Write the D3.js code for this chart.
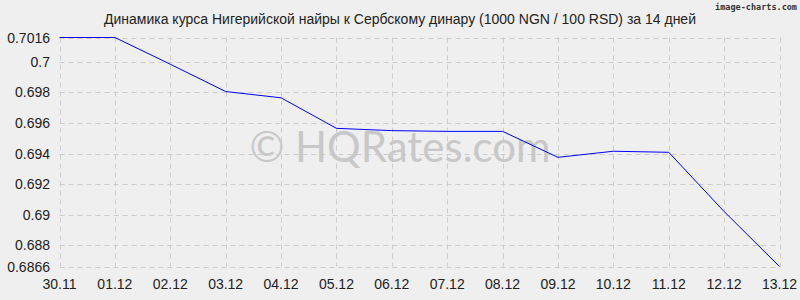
<!DOCTYPE html>
<html>
<head>
<meta charset="utf-8">
<script src="https://cdn.jsdelivr.net/npm/d3@7"></script>
<style>
  body { margin: 0; background: #efefef; }
  svg { display: block; }
</style>
</head>
<body>
<svg width="800" height="300"></svg>
<script>
const dates = ['30.11','01.12','02.12','03.12','04.12','05.12','06.12','07.12','08.12','09.12','10.12','11.12','12.12','13.12'];
const rates = [0.7016, 0.7016, 0.69985, 0.69806, 0.69765, 0.69565, 0.69550, 0.69545, 0.69545, 0.69375, 0.69415, 0.69408, 0.6902, 0.6866];
const yTicks = [0.6866, 0.688, 0.69, 0.692, 0.694, 0.696, 0.698, 0.7, 0.7016];
const title = "Динамика курса Нигерийской найры к Сербскому динару (1000 NGN / 100 RSD) за 14 дней";

const svg = d3.select("svg");

svg.append("rect")
  .attr("width", 800)
  .attr("height", 300)
  .attr("fill", "#efefef");

const x = d3.scalePoint()
  .domain(dates)
  .range([59.5, 779.5]);

const y = d3.scaleLinear()
  .domain([0.6866, 0.7016])
  .range([266.5, 37.5]);

// grid
const grid = svg.append("g")
  .attr("stroke", "#cccccc")
  .attr("stroke-width", 1)
  .attr("stroke-dasharray", "5,4");

grid.selectAll("line.h")
  .data(yTicks)
  .join("line")
  .attr("class", "h")
  .attr("x1", 59.5)
  .attr("x2", 779.5)
  .attr("y1", d => Math.round(y(d)) + 0.5)
  .attr("y2", d => Math.round(y(d)) + 0.5);

grid.selectAll("line.v")
  .data(dates)
  .join("line")
  .attr("class", "v")
  .attr("x1", d => Math.round(x(d)) + 0.5)
  .attr("x2", d => Math.round(x(d)) + 0.5)
  .attr("y1", 37.5)
  .attr("y2", 266.5);

// axis labels
svg.append("g")
  .selectAll("text")
  .data(yTicks)
  .join("text")
  .attr("x", 50)
  .attr("y", d => y(d) + 5)
  .attr("text-anchor", "end")
  .attr("font-family", "Liberation Sans, Arial, sans-serif")
  .attr("font-size", 14)
  .attr("fill", "#222")
  .text(d => String(d));

svg.append("g")
  .selectAll("text")
  .data(dates)
  .join("text")
  .attr("x", d => x(d))
  .attr("y", 289)
  .attr("text-anchor", "middle")
  .attr("font-family", "Liberation Sans, Arial, sans-serif")
  .attr("font-size", 14)
  .attr("fill", "#222")
  .text(d => d);

// watermark
svg.append("text")
  .attr("x", 400)
  .attr("y", 162)
  .attr("text-anchor", "middle")
  .attr("font-family", "Lato, 'Open Sans', sans-serif")
  .attr("font-size", 42)
  .attr("fill", "#c8c8c8")
  .text("© HQRates.com");

// line
const line = d3.line()
  .x((d, i) => x(dates[i]))
  .y(d => y(d));

svg.append("path")
  .datum(rates)
  .attr("d", line)
  .attr("fill", "none")
  .attr("stroke", "#0000ff")
  .attr("stroke-width", 1);

// title
svg.append("text")
  .attr("x", 400)
  .attr("y", 24)
  .attr("text-anchor", "middle")
  .attr("font-family", "Liberation Sans, Arial, sans-serif")
  .attr("font-size", 14)
  .attr("fill", "#222")
  .text(title);

svg.append("text")
  .attr("x", 797)
  .attr("y", 10)
  .attr("text-anchor", "end")
  .attr("font-family", "DejaVu Sans Mono, monospace")
  .attr("font-size", 8.5)
  .attr("font-weight", "bold")
  .attr("fill", "#333")
  .text("image-charts.com");
</script>
</body>
</html>
